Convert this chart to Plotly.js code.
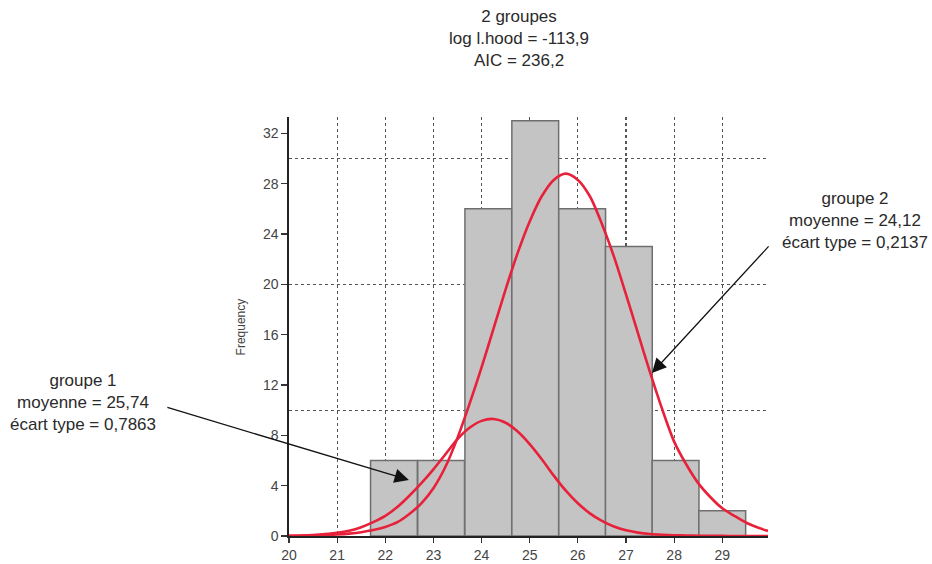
<!DOCTYPE html>
<html>
<head>
<meta charset="utf-8">
<script src="https://cdn.plot.ly/plotly-3.0.1.min.js"></script>
<style>html,body{margin:0;padding:0;background:#fff;}#chart{width:932px;height:564px;}</style>
</head>
<body>
<div id="chart"></div>
<script>
// Histogram bins (centers) and counts
var binCenters = [22.18, 23.16, 24.14, 25.115, 26.09, 27.06, 28.03, 29.0];
var binCounts  = [6, 6, 26, 33, 26, 23, 6, 2];

// Fitted curves
var curveX = [20, 20.25, 20.5, 20.75, 21, 21.25, 21.5, 21.75, 22, 22.25, 22.5, 22.75,
              23, 23.25, 23.5, 23.75, 24, 24.25, 24.5, 24.75, 25, 25.25, 25.5, 25.75,
              26, 26.25, 26.5, 26.75, 27, 27.25, 27.5, 27.75, 28, 28.25, 28.5, 28.75,
              29, 29.25, 29.5, 29.75, 29.95];
var curveSmallY = [0.02, 0.04, 0.08, 0.15, 0.25, 0.42, 0.7, 1.1, 1.6, 2.3, 3.2, 4.2,
                   5.3, 6.5, 7.7, 8.6, 9.15, 9.3, 9.0, 8.3, 7.3, 6.1, 4.8, 3.6,
                   2.6, 1.8, 1.2, 0.75, 0.45, 0.27, 0.16, 0.1, 0.06, 0.04, 0.02, 0.01,
                   0.01, 0, 0, 0, 0];
var curveLargeY = [0.01, 0.02, 0.04, 0.07, 0.12, 0.19, 0.3, 0.47, 0.72, 1.1, 1.75, 2.6,
                   3.8, 5.5, 7.8, 10.5, 13.4, 16.5, 19.6, 22.5, 25.0, 27.0, 28.3, 28.8,
                   28.3, 27.0, 24.8, 22.2, 19.2, 16.1, 13.0, 10.1, 7.5, 5.7, 4.2, 3.1,
                   2.2, 1.6, 1.05, 0.65, 0.4];

// Tick labels
var xTickVals = [20, 21, 22, 23, 24, 25, 26, 27, 28, 29];
var yTickVals = [0, 4, 8, 12, 16, 20, 24, 28, 32];
var yGridVals = [10, 20, 30];

// Texts
var titleText = "2 groupes<br>log l.hood = -113,9<br>AIC = 236,2";
var group1Text = "groupe 1<br>moyenne = 25,74<br>écart type = 0,7863";
var group2Text = "groupe 2<br>moyenne = 24,12<br>écart type = 0,2137";

var font = "Liberation Sans, Arial, sans-serif";
var red = "#e8213a";

var traces = [
  {type: "bar", x: binCenters, y: binCounts, width: 0.972,
   marker: {color: "#c4c4c4", line: {color: "#6f6f6f", width: 1.5}},
   hoverinfo: "skip", showlegend: false},
  {type: "scatter", mode: "lines", x: curveX, y: curveSmallY,
   line: {color: red, width: 2.6, shape: "spline", smoothing: 0.8}, showlegend: false},
  {type: "scatter", mode: "lines", x: curveX, y: curveLargeY,
   line: {color: red, width: 2.6, shape: "spline", smoothing: 0.8}, showlegend: false},
  {type: "scatter", mode: "lines", x: [20], y: [0], yaxis: "y2",
   line: {width: 0}, hoverinfo: "skip", showlegend: false}
];

var layout = {
  width: 932, height: 564, autosize: false,
  margin: {l: 289, r: 164, t: 117, b: 28},
  paper_bgcolor: "#ffffff", plot_bgcolor: "#ffffff",
  bargap: 0,
  font: {family: font, color: "#3a3a3a"},
  xaxis: {
    range: [20, 29.95], tickmode: "array", tickvals: xTickVals,
    ticks: "outside", ticklen: 5, tickwidth: 1.2, tickcolor: "#333",
    showline: true, linecolor: "#222", linewidth: 2,
    showgrid: true, gridcolor: "#555", gridwidth: 1.1, griddash: "dot",
    zeroline: false, tickfont: {size: 14, color: "#444"}, fixedrange: true
  },
  yaxis: {
    range: [0, 33.3], tickmode: "array", tickvals: yTickVals,
    ticks: "outside", ticklen: 6, tickwidth: 1.2, tickcolor: "#333",
    showline: true, linecolor: "#222", linewidth: 1.6,
    showgrid: false, zeroline: false, tickfont: {size: 14, color: "#444"}, fixedrange: true
  },
  yaxis2: {
    range: [0, 33.3], overlaying: "y", tickmode: "array", tickvals: yGridVals,
    showticklabels: false, ticks: "", showline: false,
    showgrid: true, gridcolor: "#555", gridwidth: 1.1, griddash: "3px,3px",
    zeroline: false, fixedrange: true
  },
  annotations: [
    {xref: "paper", yref: "paper", x: 0.4806, y: 1.1885, xanchor: "center", yanchor: "middle",
     text: titleText, showarrow: false, font: {size: 17, color: "#2a2a2a", family: font}},
    {xref: "paper", yref: "paper", x: -0.4304, y: 0.3198, xanchor: "center", yanchor: "middle",
     text: group1Text, showarrow: false, font: {size: 17, color: "#2a2a2a", family: font}},
    {xref: "paper", yref: "paper", x: 1.1826, y: 0.754, xanchor: "center", yanchor: "middle",
     text: group2Text, showarrow: false, font: {size: 17, color: "#2a2a2a", family: font}},
    {xref: "paper", yref: "paper", x: -0.1004, y: 0.5, xanchor: "center", yanchor: "middle",
     text: "Frequency", textangle: -90, showarrow: false, font: {size: 12, color: "#444", family: font}},
    {x: 22.49, y: 4.45, xref: "x", yref: "y", text: "", showarrow: true,
     ax: -243, ay: -73, arrowhead: 2, arrowsize: 2.2, arrowwidth: 1.3, arrowcolor: "#111"},
    {x: 27.54, y: 12.96, xref: "x", yref: "y", text: "", showarrow: true,
     ax: 118, ay: -128, arrowhead: 2, arrowsize: 2.2, arrowwidth: 1.3, arrowcolor: "#111"}
  ]
};

Plotly.newPlot("chart", traces, layout, {displayModeBar: false, staticPlot: true});
</script>
</body>
</html>
